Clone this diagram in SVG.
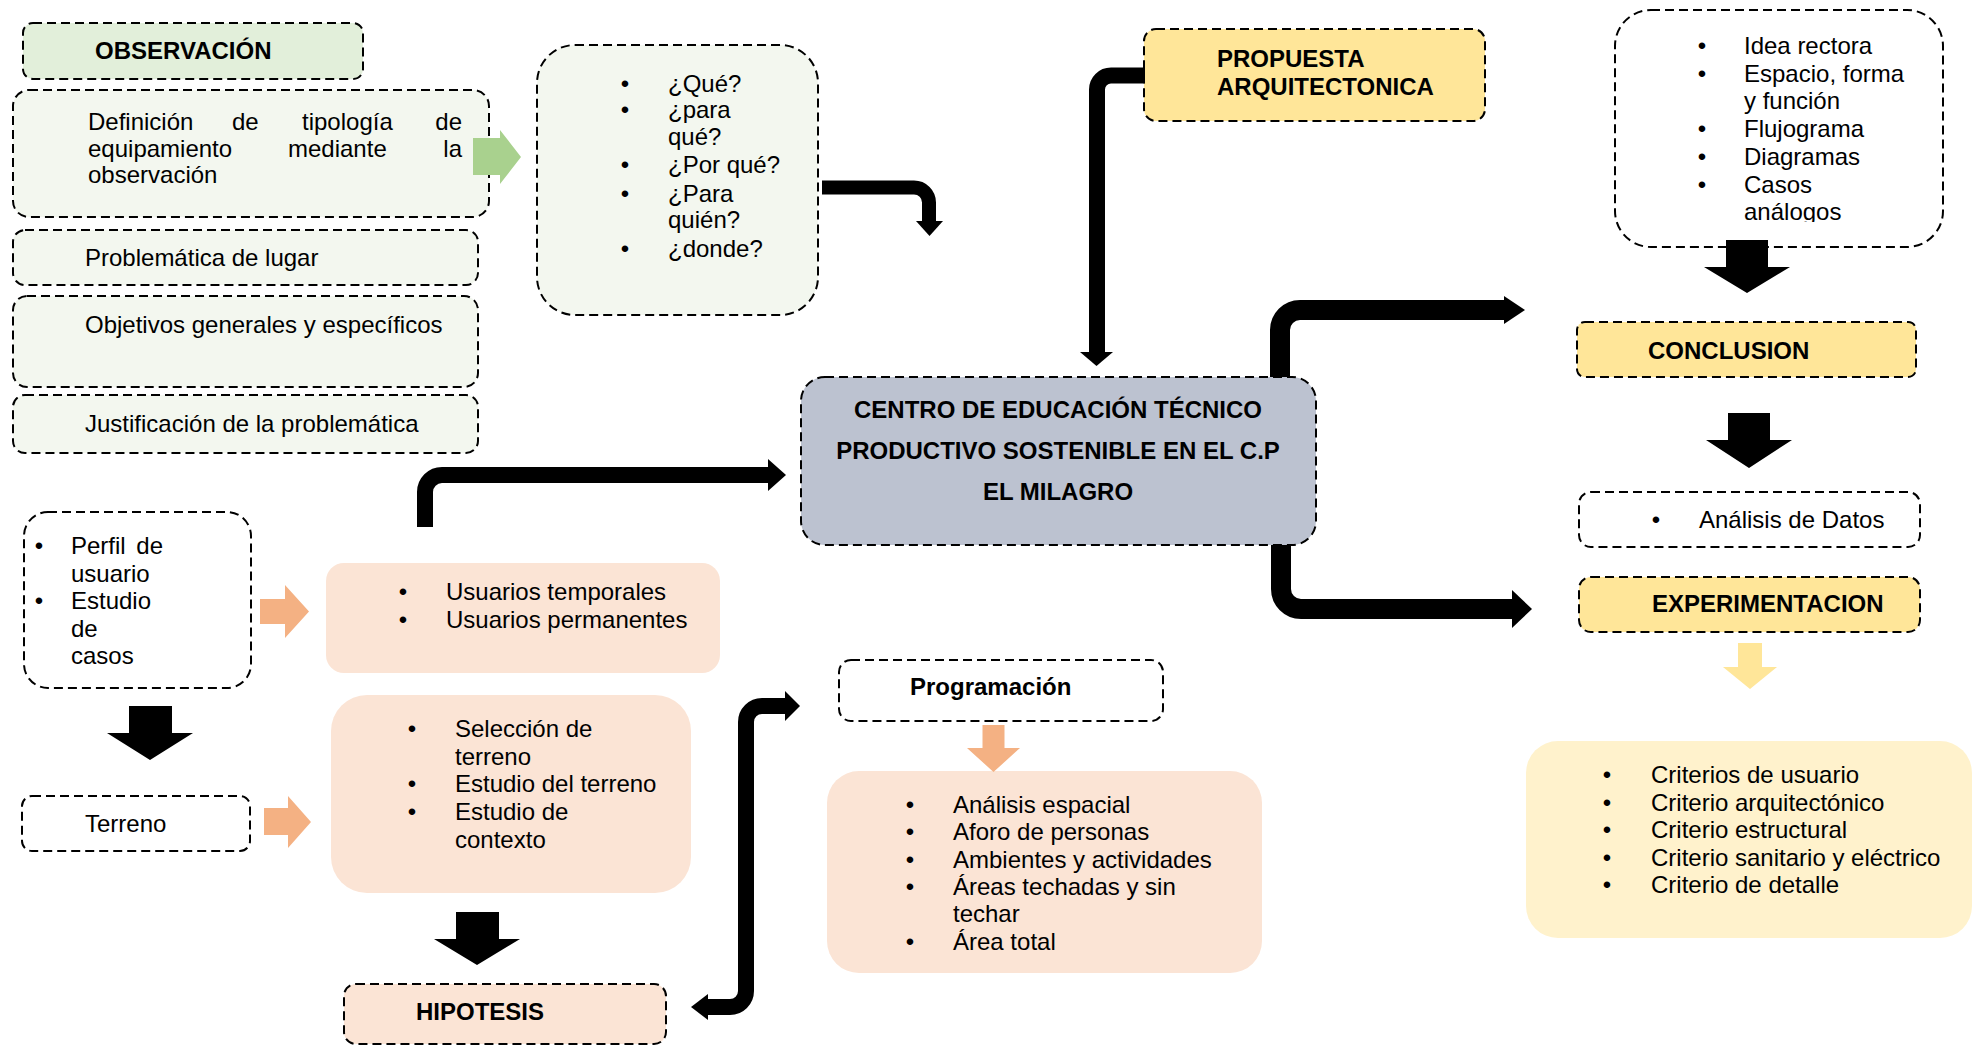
<svg xmlns="http://www.w3.org/2000/svg" width="1973" height="1047" viewBox="0 0 1973 1047">
  <defs>
    <style>
      .dash { stroke: #000; stroke-width: 2; stroke-dasharray: 9 5; }
      .t { font-family: "Liberation Sans", Arial, sans-serif; font-size: 24px; fill: #000; }
      .b { font-weight: bold; }
      .end { text-anchor: end; }
      .mid { text-anchor: middle; }
      .green { fill: #F3F7EF; }
      .green2 { fill: #E2EFDA; }
      .gold { fill: #FFE699; }
      .peach { fill: #FBE4D5; }
      .cream { fill: #FFF2CC; }
      .white { fill: #FFFFFF; }
      .link { fill: none; stroke: #000; }
    </style>
    <clipPath id="clipIdeas">
      <rect x="1615" y="10" width="328" height="212"/>
    </clipPath>
  </defs>

  <rect x="0" y="0" width="1973" height="1047" fill="#FFFFFF"/>

  <!-- Observation column -->
  <g id="observacion">
    <rect class="green2 dash" x="23" y="23" width="340" height="56" rx="10"/>
    <text class="t b" x="95" y="59">OBSERVACIÓN</text>
  </g>
  <g id="definicion">
    <rect class="green dash" x="13" y="90" width="476" height="127" rx="16"/>
    <text class="t" x="88" y="130">Definición</text>
    <text class="t" x="232" y="130">de</text>
    <text class="t" x="302" y="130">tipología</text>
    <text class="t end" x="462" y="130">de</text>
    <text class="t" x="88" y="157">equipamiento</text>
    <text class="t" x="288" y="157">mediante</text>
    <text class="t end" x="462" y="157">la</text>
    <text class="t" x="88" y="183">observación</text>
  </g>
  <g id="problematica">
    <rect class="green dash" x="13" y="230" width="465" height="55" rx="12"/>
    <text class="t" x="85" y="266">Problemática de lugar</text>
  </g>
  <g id="objetivos">
    <rect class="green dash" x="13" y="296" width="465" height="91" rx="14"/>
    <text class="t" x="85" y="333">Objetivos generales y específicos</text>
  </g>
  <g id="justificacion">
    <rect class="green dash" x="13" y="395" width="465" height="58" rx="12"/>
    <text class="t" x="85" y="432">Justificación de la problemática</text>
  </g>

  <!-- Key questions -->
  <g id="preguntas">
    <rect class="green dash" x="537" y="45" width="281" height="270" rx="38"/>
    <text class="t mid" x="625" y="92">•</text>
    <text class="t" x="668" y="92">¿Qué?</text>
    <text class="t mid" x="625" y="118">•</text>
    <text class="t" x="668" y="118">¿para</text>
    <text class="t" x="668" y="145">qué?</text>
    <text class="t mid" x="625" y="173">•</text>
    <text class="t" x="668" y="173">¿Por qué?</text>
    <text class="t mid" x="625" y="202">•</text>
    <text class="t" x="668" y="202">¿Para</text>
    <text class="t" x="668" y="228">quién?</text>
    <text class="t mid" x="625" y="257">•</text>
    <text class="t" x="668" y="257">¿donde?</text>
  </g>

  <!-- Central subject -->
  <g id="centro">
    <rect class="dash" fill="#BCC2D0" x="801" y="377" width="515" height="168" rx="24"/>
    <text class="t b mid" x="1058" y="418">CENTRO DE EDUCACIÓN TÉCNICO</text>
    <text class="t b mid" x="1058" y="459">PRODUCTIVO SOSTENIBLE EN EL C.P</text>
    <text class="t b mid" x="1058" y="500">EL MILAGRO</text>
  </g>

  <g id="propuesta">
    <rect class="gold dash" x="1144" y="29" width="341" height="92" rx="12"/>
    <text class="t b" x="1217" y="67">PROPUESTA</text>
    <text class="t b" x="1217" y="95">ARQUITECTONICA</text>
  </g>

  <!-- Right column -->
  <g id="ideas">
    <rect class="white dash" x="1615" y="10" width="328" height="237" rx="36"/>
    <g clip-path="url(#clipIdeas)">
      <text class="t mid" x="1702" y="54">•</text>
      <text class="t" x="1744" y="54">Idea rectora</text>
      <text class="t mid" x="1702" y="82">•</text>
      <text class="t" x="1744" y="82">Espacio, forma</text>
      <text class="t" x="1744" y="109">y función</text>
      <text class="t mid" x="1702" y="137">•</text>
      <text class="t" x="1744" y="137">Flujograma</text>
      <text class="t mid" x="1702" y="165">•</text>
      <text class="t" x="1744" y="165">Diagramas</text>
      <text class="t mid" x="1702" y="193">•</text>
      <text class="t" x="1744" y="193">Casos</text>
      <text class="t" x="1744" y="220">análogos</text>
    </g>
  </g>
  <g id="conclusion">
    <rect class="gold dash" x="1577" y="322" width="339" height="55" rx="8"/>
    <text class="t b" x="1648" y="359">CONCLUSION</text>
  </g>
  <g id="analisis">
    <rect class="white dash" x="1579" y="492" width="341" height="55" rx="12"/>
    <text class="t mid" x="1656" y="528">•</text>
    <text class="t" x="1699" y="528">Análisis de Datos</text>
  </g>
  <g id="experimentacion">
    <rect class="gold dash" x="1579" y="577" width="341" height="55" rx="12"/>
    <text class="t b" x="1652" y="612">EXPERIMENTACION</text>
  </g>
  <g id="criterios">
    <rect class="cream" x="1526" y="741" width="446" height="197" rx="32"/>
    <text class="t mid" x="1607" y="783">•</text>
    <text class="t" x="1651" y="783">Criterios de usuario</text>
    <text class="t mid" x="1607" y="811">•</text>
    <text class="t" x="1651" y="811">Criterio arquitectónico</text>
    <text class="t mid" x="1607" y="838">•</text>
    <text class="t" x="1651" y="838">Criterio estructural</text>
    <text class="t mid" x="1607" y="866">•</text>
    <text class="t" x="1651" y="866">Criterio sanitario y eléctrico</text>
    <text class="t mid" x="1607" y="893">•</text>
    <text class="t" x="1651" y="893">Criterio de detalle</text>
  </g>

  <!-- Lower left: users and site -->
  <g id="perfil">
    <rect class="white dash" x="24" y="512" width="227" height="176" rx="24"/>
    <text class="t mid" x="39" y="554">•</text>
    <text class="t" x="71" y="554">Perfil</text>
    <text class="t end" x="163" y="554">de</text>
    <text class="t" x="71" y="582">usuario</text>
    <text class="t mid" x="39" y="609">•</text>
    <text class="t" x="71" y="609">Estudio</text>
    <text class="t" x="71" y="637">de</text>
    <text class="t" x="71" y="664">casos</text>
  </g>
  <g id="usuarios">
    <rect class="peach" x="326" y="563" width="394" height="110" rx="18"/>
    <text class="t mid" x="403" y="600">•</text>
    <text class="t" x="446" y="600">Usuarios temporales</text>
    <text class="t mid" x="403" y="628">•</text>
    <text class="t" x="446" y="628">Usuarios permanentes</text>
  </g>
  <g id="terreno">
    <rect class="white dash" x="22" y="796" width="228" height="55" rx="10"/>
    <text class="t" x="85" y="832">Terreno</text>
  </g>
  <g id="seleccion">
    <rect class="peach" x="331" y="695" width="360" height="198" rx="36"/>
    <text class="t mid" x="412" y="737">•</text>
    <text class="t" x="455" y="737">Selección de</text>
    <text class="t" x="455" y="765">terreno</text>
    <text class="t mid" x="412" y="792">•</text>
    <text class="t" x="455" y="792">Estudio del terreno</text>
    <text class="t mid" x="412" y="820">•</text>
    <text class="t" x="455" y="820">Estudio de</text>
    <text class="t" x="455" y="848">contexto</text>
  </g>
  <g id="hipotesis">
    <rect class="peach dash" x="344" y="984" width="322" height="60" rx="12"/>
    <text class="t b" x="416" y="1020">HIPOTESIS</text>
  </g>

  <!-- Programming -->
  <g id="programacion">
    <rect class="white dash" x="839" y="660" width="324" height="61" rx="12"/>
    <text class="t b" x="910" y="695">Programación</text>
  </g>
  <g id="programacion-lista">
    <rect class="peach" x="827" y="771" width="435" height="202" rx="32"/>
    <text class="t mid" x="910" y="813">•</text>
    <text class="t" x="953" y="813">Análisis espacial</text>
    <text class="t mid" x="910" y="840">•</text>
    <text class="t" x="953" y="840">Aforo de personas</text>
    <text class="t mid" x="910" y="868">•</text>
    <text class="t" x="953" y="868">Ambientes y actividades</text>
    <text class="t mid" x="910" y="895">•</text>
    <text class="t" x="953" y="895">Áreas techadas y sin</text>
    <text class="t" x="953" y="922">techar</text>
    <text class="t mid" x="910" y="950">•</text>
    <text class="t" x="953" y="950">Área total</text>
  </g>

  <!-- Connectors -->
  <g id="connectors">
    <!-- questions -> down -->
    <path class="link" stroke-width="14" d="M 822 187.5 H 914 A 15 15 0 0 1 929 202.5 V 222"/>
    <polygon points="916,221 943,221 929.5,236"/>

    <!-- propuesta -> centre -->
    <path class="link" stroke-width="16" d="M 1145 75.5 H 1111 A 14 14 0 0 0 1097 89.5 V 353"/>
    <polygon points="1080,352 1113,352 1096.5,366"/>

    <!-- centre -> conclusion side -->
    <path class="link" stroke-width="20" d="M 1280 377 V 330 A 20 20 0 0 1 1300 310 H 1505"/>
    <polygon points="1504,296 1525,310 1504,324"/>

    <!-- centre -> experimentacion side -->
    <path class="link" stroke-width="20" d="M 1281 545 V 589 A 20 20 0 0 0 1301 609 H 1513"/>
    <polygon points="1512,590 1532,609 1512,628"/>

    <!-- usuarios -> centre -->
    <path class="link" stroke-width="16" d="M 425 527 V 492 A 17 17 0 0 1 442 475 H 769"/>
    <polygon points="768,459 786,475 768,491"/>

    <!-- hipotesis <-> programacion -->
    <path class="link" stroke-width="16" d="M 707 1007 H 730 A 16 16 0 0 0 746 991 V 722 A 16 16 0 0 1 762 706 H 786"/>
    <polygon points="785,691 800,706 785,721"/>
    <polygon points="708,994 691,1007 708,1020"/>

    <!-- block arrows -->
    <polygon fill="#A9D18E" points="473,138 500,138 500,130 521,157 500,184 500,175 473,175"/>
    <polygon fill="#F4B183" points="260,599 285,599 285,585 309,611.5 285,638 285,624 260,624"/>
    <polygon fill="#F4B183" points="264,808 288,808 288,796 311,822 288,848 288,835 264,835"/>
    <polygon fill="#F4B183" points="982.5,725 1004.5,725 1004.5,748 1020,748 993.5,772 967,748 982.5,748"/>
    <polygon fill="#FFE699" points="1738,643 1762,643 1762,667 1777,667 1750,689 1723,667 1738,667"/>

    <polygon points="1726,240 1768,240 1768,267 1790,267 1747,293 1704,267 1726,267"/>
    <polygon points="1728,413 1770,413 1770,440 1792,440 1749,468 1706,440 1728,440"/>
    <polygon points="129,706 172,706 172,733 193,733 150,760 107,733 129,733"/>
    <polygon points="456,912 499,912 499,939 520,939 477,965 434,939 456,939"/>
  </g>
</svg>
